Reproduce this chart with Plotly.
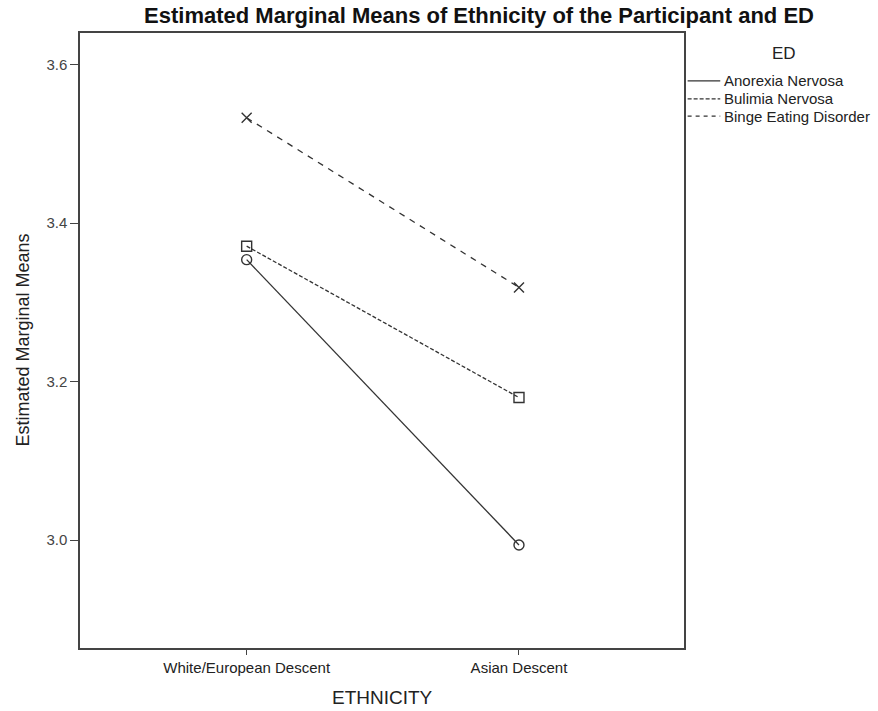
import plotly.graph_objects as go

# Estimated marginal means by ethnicity for each eating-disorder group
ethnicity = ["White/European Descent", "Asian Descent"]
anorexia = [3.354, 2.994]
bulimia = [3.371, 3.180]
binge = [3.533, 3.319]

y_ticks = [3.0, 3.2, 3.4, 3.6]

series = [
    ("Anorexia Nervosa", anorexia, "solid", "circle-open"),
    ("Bulimia Nervosa", bulimia, "4px,2px", "square-open"),
    ("Binge Eating Disorder", binge, "6px,6px", "x-thin-open"),
]

FONT = "Liberation Sans, Arial, sans-serif"
INK = "#333333"

fig = go.Figure()
for name, vals, dash, sym in series:
    fig.add_trace(go.Scatter(
        x=ethnicity, y=vals, name=name, mode="lines+markers",
        line=dict(color=INK, width=1.3, dash=dash),
        marker=dict(symbol=sym, size=10, color=INK,
                    line=dict(color=INK, width=1.4)),
        showlegend=False,
    ))

# legend drawn beside the plot frame: line sample + label
legend_y = [0.922, 0.893, 0.865]
legend_dash = ["solid", "4px,2px", "4px,4px"]
for (name, _, _, _), dash, ly in zip(series, legend_dash, legend_y):
    fig.add_shape(type="line", xref="paper", yref="paper",
                  x0=1.006, x1=1.06, y0=ly, y1=ly,
                  line=dict(color=INK, width=1.2, dash=dash))
    fig.add_annotation(xref="paper", yref="paper", x=1.063, y=ly,
                       text=name, showarrow=False, xanchor="left",
                       yanchor="middle",
                       font=dict(family=FONT, size=15, color="#222"))
fig.add_annotation(xref="paper", yref="paper", x=1.165, y=0.967,
                   text="ED", showarrow=False, xanchor="center",
                   yanchor="middle", font=dict(family=FONT, size=17, color="#222"))

# axis titles
fig.add_annotation(xref="paper", yref="paper", x=0.5, y=-0.081,
                   text="ETHNICITY", showarrow=False, xanchor="center",
                   yanchor="middle", font=dict(family=FONT, size=19, color="#222"))
fig.add_annotation(xref="paper", yref="paper", x=-0.096, y=0.5,
                   text="Estimated Marginal Means", showarrow=False,
                   textangle=-90, xanchor="center", yanchor="middle",
                   font=dict(family=FONT, size=18, color="#222"))

fig.update_layout(
    width=878, height=711,
    margin=dict(l=80, r=194, t=33, b=63),
    paper_bgcolor="white", plot_bgcolor="white",
    font=dict(family=FONT, color="#222"),
    title=dict(text="<b>Estimated Marginal Means of Ethnicity of the Participant and ED</b>",
               x=0.5456, xref="container", xanchor="center",
               y=0.979, yref="container", yanchor="middle",
               font=dict(family=FONT, size=22, color="#111")),
)
fig.update_xaxes(
    type="category", range=[-0.612, 1.606], automargin=False,
    showline=True, mirror=True, linecolor="#444", linewidth=1.5,
    ticks="outside", ticklen=5, tickcolor="#444", tickwidth=1.2,
    showgrid=False, zeroline=False,
    tickfont=dict(family=FONT, size=15, color="#222"),
)
fig.update_yaxes(
    range=[2.864, 3.640], tickvals=y_ticks, tickformat=".1f", automargin=False,
    showline=True, mirror=True, linecolor="#444", linewidth=1.5,
    ticks="outside", ticklen=8, tickcolor="#444", tickwidth=1.2,
    showgrid=False, zeroline=False,
    tickfont=dict(family=FONT, size=15, color="#444"),
)

fig.write_html("out.html")
